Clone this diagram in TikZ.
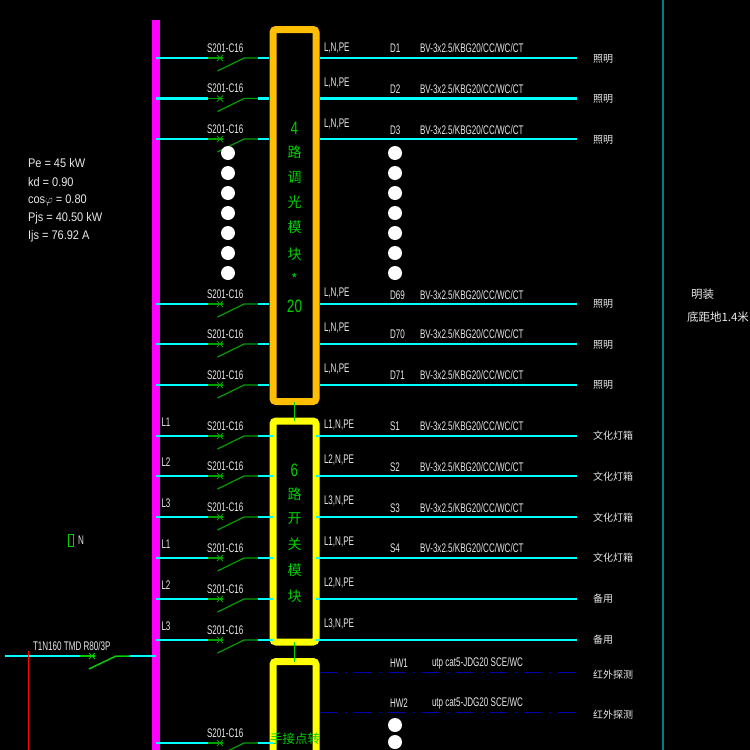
\documentclass[tikz,border=0pt]{standalone}
\usepackage{fontspec}
\setmainfont{Liberation Sans}
\newfontfamily\cad[FakeStretch=0.645]{Liberation Sans}
\newfontfamily\calcf[FakeStretch=0.88]{Liberation Sans}
\newfontfamily\digf[FakeStretch=0.75]{Liberation Sans}
\newfontfamily\cjk{Noto Sans CJK SC}
\definecolor{cbus}{HTML}{FF00FF}
\definecolor{ccy}{HTML}{00FFFF}
\definecolor{cor}{HTML}{FFBF00}
\definecolor{cye}{HTML}{FFFF00}
\definecolor{cgr}{HTML}{00D000}
\definecolor{cbr}{HTML}{00A000}
\definecolor{ctxt}{HTML}{E8E8E8}
\definecolor{cteal}{HTML}{008080}
\definecolor{cnavy}{HTML}{0000B0}
\tikzset{
  x=1pt,y=-1pt,
  every node/.style={inner sep=0pt,outer sep=0pt},
  lbl/.style={text=ctxt,font=\cad\fontsize{12.5}{12.5}\selectfont,anchor=west},
  calcl/.style={text=ctxt,font=\calcf\fontsize{12.5}{12.5}\selectfont,anchor=west},
  zh/.style={text=ctxt,font=\cjk\fontsize{10}{10}\selectfont,anchor=west},
  note/.style={text=ctxt,font=\cjk\fontsize{11.5}{11.5}\selectfont,anchor=west},
  vt/.style={text=cgr,font=\cjk\fontsize{14}{14}\selectfont},
  vd/.style={text=cgr,font=\digf\fontsize{18}{18}\selectfont},
  vl/.style={text=cgr,font=\cjk\fontsize{12.5}{12.5}\selectfont},
  modbox/.style={draw=#1,line width=7pt,rounded corners=3pt,minimum width=43pt,fill=black},
  wire/.style={ccy,line width=2.4pt},
  brk/.style={cbr,line width=1.2pt},
  sig/.style={cnavy,line width=1.4pt,dash pattern=on 18pt off 7pt on 2pt off 7pt},
  dotw/.style={circle,fill=white,minimum size=14pt},
  link/.style={cgr,line width=1.5pt},
}
\begin{document}
\begin{tikzpicture}
\useasboundingbox (0,0) rectangle (750,750);
\clip (0,0) rectangle (750,750);
\fill[black] (0,0) rectangle (750,750);
% frame line and feeder drop
\coordinate (tealt) at (663,0); \coordinate (tealb) at (663,750);
\draw[cteal,line width=1.2pt] (tealt) -- (tealb);
\coordinate (redt) at (28.5,651); \coordinate (redb) at (28.5,750);
% modules
\node[modbox=cor,minimum height=372pt] (m1) at (294.5,215.5) {};
\node[modbox=cye,minimum height=221pt] (m2) at (294.5,531.5) {};
\node[modbox=cye,minimum height=200pt] (m3) at (294.5,761.5) {};
\draw[link] (m1.south) -- (m2.north);
\draw[link] (m2.south) -- (m3.north);
% busbar
\node[fill=cbus,minimum width=8pt,minimum height=730pt] (bus) at (156,385) {};
% circuits
\foreach \i/\y/\bx in {1/58/269,2/98.5/269,3/139/269,4/304/269,5/344/269,6/385/269,
  7/436/273,8/476/273,9/517/273,10/558/273,11/599/273,12/640/273,13/743/273}{
  \coordinate (b\i) at (208,\y);
  \coordinate (a\i) at (bus.center|-b\i);
  \coordinate (c\i) at (223,\y);
  \coordinate (x\i) at (220,\y);
  \coordinate (d\i) at (217.5,\y+13);
  \coordinate (e\i) at (244,\y);
  \coordinate (f\i) at (258,\y);
  \coordinate (g\i) at (\bx,\y);
  \draw[wire] (a\i) -- (b\i);
  \draw[brk] (b\i) -- (c\i);
  \draw[cbr,line width=0.9pt] ([shift={(-3,-3)}]x\i) -- ([shift={(3,3)}]x\i);
  \draw[cbr,line width=0.9pt] ([shift={(-3,3)}]x\i) -- ([shift={(3,-3)}]x\i);
  \draw[brk] (d\i) -- (e\i) -- (f\i);
  \draw[wire] (f\i) -- (g\i);
  \node[lbl] at (207,\y-10) {S201-C16};
}
\foreach \i/\y/\bx in {1/58/320,2/98.5/320,3/139/320,4/304/320,5/344/320,6/385/320,
  7/436/316,8/476/316,9/517/316,10/558/316,11/599/316,12/640/316}{
  \coordinate (h\i) at (\bx,\y);
  \coordinate (k\i) at (577,\y);
  \draw[wire] (h\i) -- (k\i);
}
% signal lines
\coordinate (s1a) at (320,672.5); \coordinate (s1b) at (577,672.5);
\coordinate (s2a) at (320,712.5); \coordinate (s2b) at (577,712.5);
\draw[sig] (s1a) -- (s1b);
\draw[sig] (s2a) -- (s2b);
% main breaker
\coordinate (ma) at (5,656); \coordinate (mb) at (80,656); \coordinate (mc) at (95,656);
\coordinate (mx) at (92,656); \coordinate (md) at (89,669); \coordinate (me) at (116,656);
\coordinate (mf) at (130,656);
\draw[wire] (ma) -- (mb);
\draw[link] (mb) -- (mc);
\draw[cgr,line width=0.9pt] ([shift={(-3,-3)}]mx) -- ([shift={(3,3)}]mx);
\draw[cgr,line width=0.9pt] ([shift={(-3,3)}]mx) -- ([shift={(3,-3)}]mx);
\draw[link] (md) -- (me) -- (mf);
\draw[wire] (mf) -- (bus.center|-mf);
\draw[red,line width=1pt] (redt) -- (redb);
\node[lbl] at (33,646) {T1N160 TMD R80/3P};
% dots
\foreach \i/\y in {1/153,2/173,3/193,4/213,5/233,6/253,7/273}{
  \node[dotw] (p\i) at (228,\y) {};
  \node[dotw] (q\i) at (395,\y) {};
}
\node[dotw] (q8) at (395,725) {};
\node[dotw] (q9) at (395,742) {};
% module texts
\foreach \t/\y in {路/152,调/177,光/202,模/227,块/254}
  \node[vt] at (294.5,\y) {\t};
\node[vd] at (294.5,128) {4};
\node[vt] at (294.5,279) {*};
\node[vd] at (294.5,306) {20};
\node[vd] at (294.5,470) {6};
\foreach \t/\y in {路/494,开/519,关/544,模/570,块/596}
  \node[vt] at (294.5,\y) {\t};
\node[vl] at (295,739) {手接点转};
% conductor labels
\foreach \t/\y in {{L,N,PE}/48,{L,N,PE}/83,{L,N,PE}/124,{L,N,PE}/293,{L,N,PE}/328,{L,N,PE}/369,
  {L1,N,PE}/425,{L2,N,PE}/460,{L3,N,PE}/501,{L1,N,PE}/542,{L2,N,PE}/583,{L3,N,PE}/624}
  \node[lbl] at (324,\y) {\t};
\foreach \t/\y in {L1/422,L2/462,L3/503,L1/544,L2/585,L3/626}
  \node[lbl] at (161.5,\y) {\t};
% circuit ids and cables
\foreach \t/\y in {D1/48,D2/89,D3/130,D69/295,D70/334,D71/375,S1/426,S2/467,S3/508,S4/548}{
  \node[lbl] at (390,\y) {\t};
  \node[lbl] at (420,\y) {BV-3x2.5/KBG20/CC/WC/CT};
}
\foreach \t/\y in {HW1/663,HW2/703}{
  \node[lbl] at (390,\y) {\t};
  \node[lbl] at (432,\y) {utp cat5-JDG20 SCE/WC};
}
% load names
\foreach \t/\y in {照明/59,照明/99,照明/140,照明/304,照明/345,照明/385,
  文化灯箱/436,文化灯箱/477,文化灯箱/518,文化灯箱/558,备用/599,备用/640,红外探测/675,红外探测/715}
  \node[zh] at (593,\y) {\t};
% calc block
\foreach \t/\y in {Pe = 45 kW/163,kd = 0.90/182,cos$\varphi$ = 0.80/200,Pjs = 40.50 kW/218,Ijs = 76.92 A/236}
  \node[calcl] at (28,\y) {\t};
% N marker
\node[draw=cgr,line width=1pt,minimum width=5pt,minimum height=12pt] (nm) at (70.5,540) {};
\node[lbl] (nt) at (78,540) {N};
% mounting note
\node[note] at (691,294) {明装};
\node[note] at (687,317) {底距地1.4米};
\end{tikzpicture}
\end{document}
